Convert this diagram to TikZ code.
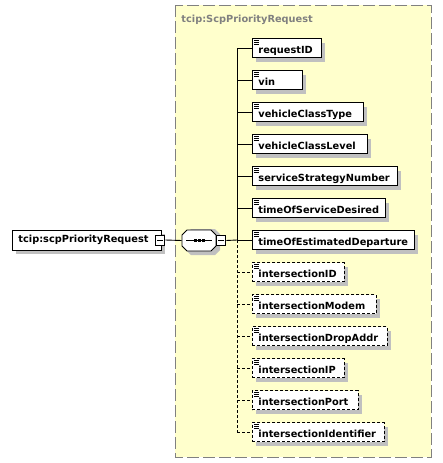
\documentclass[tikz,border=0pt]{standalone}
\usepackage{fontspec}
\setmainfont{DejaVu Sans}
\usetikzlibrary{shadows}
\definecolor{seqyellow}{HTML}{FFFFCC}
\definecolor{framegray}{HTML}{808080}
\definecolor{shadowgray}{HTML}{C0C0C0}

\tikzset{
  boxshadow/.style={drop shadow={shadow xshift=4pt, shadow yshift=-4pt, fill=shadowgray, opacity=1}},
  elem/.style={draw, fill=white, anchor=west, line width=0.9pt, inner xsep=0pt, inner ysep=0pt,
    minimum height=19pt, text width=#1, align=left, text height=11pt, text depth=0pt, boxshadow,
    path picture={
      \draw[solid, line width=0.8pt] ([shift={(1.5pt,-2.3pt)}]path picture bounding box.north west) -- ++(5pt,0pt);
      \draw[solid, line width=0.8pt] ([shift={(1.5pt,-4.3pt)}]path picture bounding box.north west) -- ++(5pt,0pt);
      \draw[solid, line width=0.8pt] ([shift={(1.5pt,-6.3pt)}]path picture bounding box.north west) -- ++(5pt,0pt);
    }},
  optelem/.style={elem=#1, dash pattern=on 3pt off 2pt},
  minusbox/.style={draw, fill=white, line width=0.9pt, minimum width=9pt, minimum height=10pt, inner sep=0pt,
    path picture={\draw[line width=0.9pt] ([xshift=1.5pt]path picture bounding box.west) -- ([xshift=-1.5pt]path picture bounding box.east);}}
}

\begin{document}
\begin{tikzpicture}[x=1pt, y=-1pt, line width=0.9pt, font=\fontsize{9.8}{11}\selectfont\bfseries]
  \useasboundingbox (0,0) rectangle (442,463);
  \draw[framegray, fill=seqyellow, line width=1pt, dash pattern=on 12pt off 4pt] (175,5) rectangle (431,457);
  \node[anchor=base west, text=framegray, inner sep=0pt] (title) at (181,23) {tcip:ScpPriorityRequest};

  \node[draw, fill=white, anchor=west, inner xsep=0pt, inner ysep=0pt, minimum height=20pt, text width=149pt,
    align=left, text height=7pt, text depth=2pt, boxshadow] (root) at (12,240) {\hspace*{6pt}tcip:scpPriorityRequest};
  \node[minusbox] (rootminus) at ([xshift=-1.5pt]root.east) {};

  \fill[shadowgray] (186,234) -- (191,229) -- (215,229) -- (220,234) -- (220,250) -- (215,255) -- (191,255) -- (186,250) -- cycle;
  \draw[fill=white] (182,235) -- (187,230) -- (211,230) -- (216,235) -- (216,246) -- (211,251) -- (187,251) -- (182,246) -- cycle;
  \node[minimum width=34pt, minimum height=21pt, inner sep=0pt] (seq) at (199,240.5) {};
  \node[minusbox, anchor=west] (seqminus) at (seq.east) {};
  \draw[line width=0.8pt] ([xshift=-13pt]seq.center) -- ([xshift=13pt]seq.center);
  \foreach \dx in {-4,0,4}
    \fill ([shift={(\dx pt-1.5pt,-1.5pt)}]seq.center) rectangle ++(3pt,3pt);

  \node[elem=69pt] (reqid) at (252,48) {\hspace*{6pt}requestID};
  \node[elem=50pt] (vin) at (252,80) {\hspace*{6pt}vin};
  \node[elem=111pt] (vctype) at (252,112) {\hspace*{6pt}vehicleClassType};
  \node[elem=115pt] (vclevel) at (252,144) {\hspace*{6pt}vehicleClassLevel};
  \node[elem=145pt] (ssnum) at (252,176) {\hspace*{6pt}serviceStrategyNumber};
  \node[elem=133pt] (tosd) at (252,208) {\hspace*{6pt}timeOfServiceDesired};
  \node[elem=162pt] (toed) at (252,240) {\hspace*{6pt}timeOfEstimatedDeparture};
  \node[optelem=92pt] (iid) at (252,272) {\hspace*{6pt}intersectionID};
  \node[optelem=124pt] (imodem) at (252,304) {\hspace*{6pt}intersectionModem};
  \node[optelem=135pt] (idrop) at (252,336) {\hspace*{6pt}intersectionDropAddr};
  \node[optelem=92pt] (iip) at (252,368) {\hspace*{6pt}intersectionIP};
  \node[optelem=106pt] (iport) at (252,400) {\hspace*{6pt}intersectionPort};
  \node[optelem=132pt] (iident) at (252,432) {\hspace*{6pt}intersectionIdentifier};

  \coordinate (T) at (237,240);
  \draw (rootminus.east) -- (seq.west);
  \draw (seqminus.east) -- (T);
  \draw (T |- reqid.west) -- (T);
  \draw[dash pattern=on 3pt off 2pt] (T) -- (T |- iident.west);
  \draw (T |- reqid.west) -- (reqid.west);
  \draw (T |- vin.west) -- (vin.west);
  \draw (T |- vctype.west) -- (vctype.west);
  \draw (T |- vclevel.west) -- (vclevel.west);
  \draw (T |- ssnum.west) -- (ssnum.west);
  \draw (T |- tosd.west) -- (tosd.west);
  \draw (T) -- (toed.west);
  \draw[dash pattern=on 3pt off 2pt] (T |- iid.west) -- (iid.west);
  \draw[dash pattern=on 3pt off 2pt] (T |- imodem.west) -- (imodem.west);
  \draw[dash pattern=on 3pt off 2pt] (T |- idrop.west) -- (idrop.west);
  \draw[dash pattern=on 3pt off 2pt] (T |- iip.west) -- (iip.west);
  \draw[dash pattern=on 3pt off 2pt] (T |- iport.west) -- (iport.west);
  \draw[dash pattern=on 3pt off 2pt] (T |- iident.west) -- (iident.west);
\end{tikzpicture}
\end{document}
